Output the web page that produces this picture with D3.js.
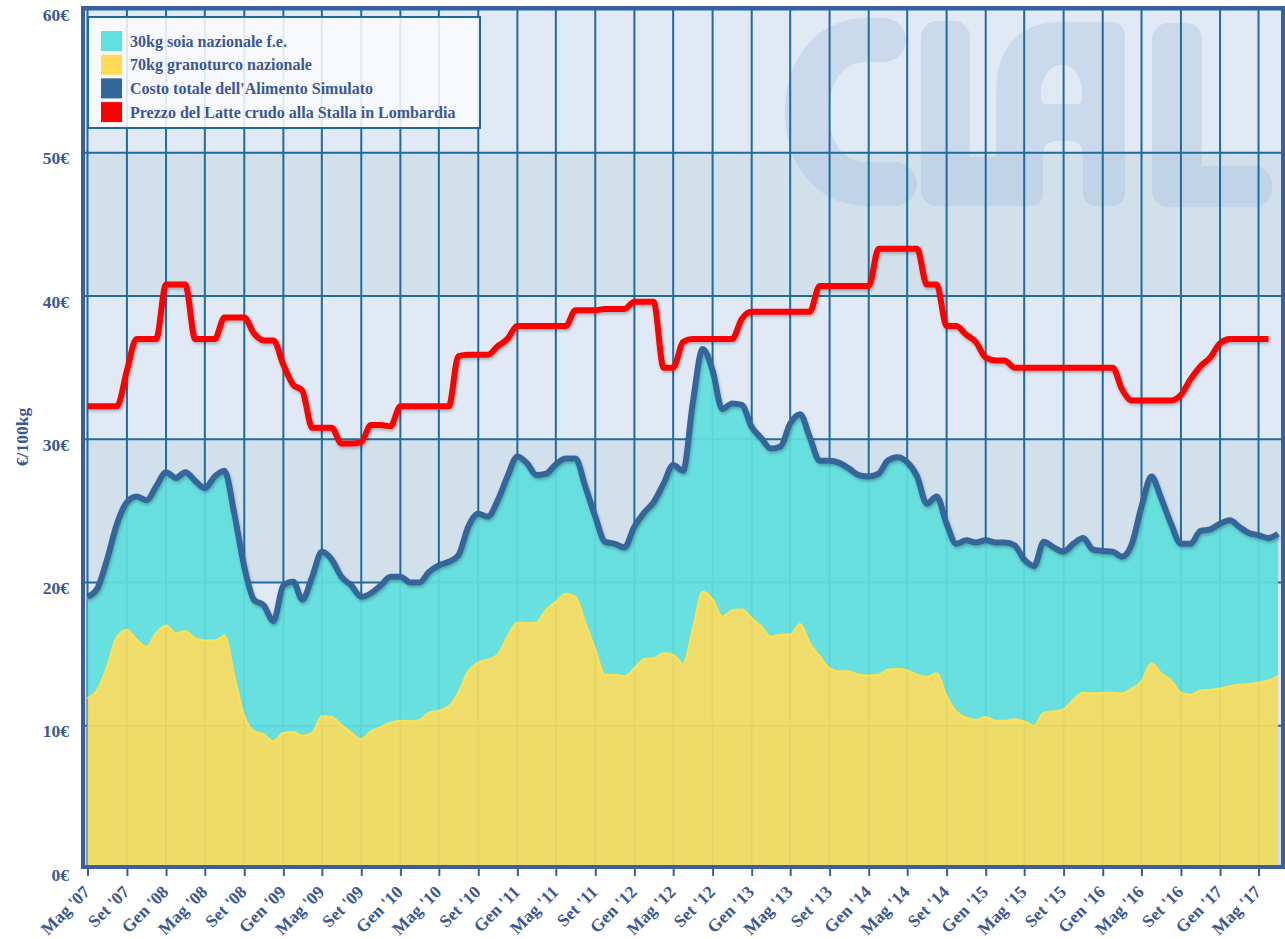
<!DOCTYPE html>
<html><head><meta charset="utf-8">
<script src="https://cdn.jsdelivr.net/npm/d3@7"></script>
<style>
body{margin:0;background:#fff}
svg{display:block}
text{font-family:"Liberation Serif","Times New Roman",serif;font-weight:bold;fill:#3a5894}
</style>
</head><body>
<svg id="c" width="1285" height="939"></svg>
<script>
// ---- DATA (monthly, starting May 2007) ----
const startDate = new Date(2007, 4, 1);
const granoturco = [
11.9,12.5,14.1,16.2,16.7,16.0,15.5,16.45,17.0,16.45,16.6,16.1,15.95,15.95,16.3,13.45,10.65,9.6,9.4,8.9,
9.5,9.55,9.3,9.5,10.65,10.6,10.05,9.5,9.05,9.6,9.9,10.2,10.35,10.3,10.4,10.9,11.05,11.35,12.3,13.8,
14.4,14.6,14.95,16.2,17.2,17.15,17.2,18.1,18.65,19.2,19.0,17.15,15.3,13.55,13.55,13.45,14.0,14.65,14.7,15.05,
14.95,14.3,16.7,19.35,18.8,17.6,18.05,18.1,17.5,16.9,16.2,16.35,16.35,17.1,15.75,14.85,14.0,13.8,13.8,13.55,
13.5,13.55,13.9,13.95,13.85,13.55,13.4,13.65,12.05,11.0,10.55,10.4,10.6,10.35,10.35,10.45,10.3,10.0,10.9,11.0,
11.15,11.8,12.3,12.25,12.3,12.3,12.25,12.6,13.1,14.35,13.65,13.15,12.3,12.15,12.45,12.5,12.6,12.75,12.85,12.9,
13.0,13.15,13.45];
const costoTotale = [
19.0,19.6,21.6,24.1,25.6,26.0,25.75,26.7,27.7,27.3,27.7,27.1,26.6,27.4,27.8,24.8,21.1,18.8,18.4,17.3,
19.8,20.05,18.8,20.4,22.15,21.6,20.4,19.8,19.0,19.25,19.8,20.4,20.4,20.0,20.0,20.75,21.2,21.45,21.9,23.9,
24.8,24.6,25.75,27.4,28.8,28.3,27.5,27.6,28.25,28.65,28.65,26.7,24.6,22.85,22.7,22.45,23.9,24.9,25.6,26.9,
28.2,27.8,32.5,36.3,34.8,32.1,32.5,32.4,30.85,30.05,29.35,29.5,31.1,31.75,30.15,28.5,28.5,28.35,27.95,27.5,
27.4,27.6,28.5,28.75,28.4,27.4,25.5,26.0,24.1,22.7,22.95,22.8,22.95,22.8,22.8,22.6,21.6,21.15,22.85,22.45,
22.15,22.7,23.1,22.3,22.2,22.15,21.8,22.7,25.3,27.4,25.9,24.1,22.7,22.7,23.6,23.7,24.1,24.35,23.9,23.45,
23.3,23.1,23.4];
const prezzoLatte = [
32.3,32.3,32.3,32.3,34.8,37.0,37.0,37.0,40.8,40.8,40.8,37.0,37.0,37.0,38.5,38.5,38.5,37.4,36.9,36.9,
35.2,33.8,33.4,30.8,30.8,30.8,29.7,29.7,29.8,31.0,31.0,30.9,32.3,32.3,32.3,32.3,32.3,32.3,35.8,35.9,
35.9,35.9,36.5,37.0,37.9,37.9,37.9,37.9,37.9,37.9,39.0,39.0,39.0,39.1,39.1,39.1,39.6,39.6,39.6,35.0,
35.0,36.8,37.0,37.0,37.0,37.0,37.0,38.4,38.9,38.9,38.9,38.9,38.9,38.9,38.9,40.7,40.7,40.7,40.7,40.7,
40.7,43.3,43.3,43.3,43.3,43.3,40.8,40.8,37.9,37.9,37.3,36.8,35.7,35.5,35.5,35.0,35.0,35.0,35.0,35.0,
35.0,35.0,35.0,35.0,35.0,35.0,33.5,32.7,32.7,32.7,32.7,32.7,33.1,34.2,35.1,35.7,36.7,37.0,37.0,37.0,
37.0,37.0];
const tickLabels = ["Mag '07","Set '07","Gen '08","Mag '08","Set '08","Gen '09","Mag '09","Set '09","Gen '10","Mag '10","Set '10",
"Gen '11","Mag '11","Set '11","Gen '12","Mag '12","Set '12","Gen '13","Mag '13","Set '13","Gen '14","Mag '14","Set '14",
"Gen '15","Mag '15","Set '15","Gen '16","Mag '16","Set '16","Gen '17","Mag '17"];
const yTicks = [0,10,20,30,40,50,60];
const legendLabels = ["30kg soia nazionale f.e.","70kg granoturco nazionale","Costo totale dell'Alimento Simulato","Prezzo del Latte crudo alla Stalla in Lombardia"];
const legendColors = ["#5fe0de","#ffdb55","#336699","#ff0000"];

// ---- SCALES ----
const svg = d3.select("#c");
const x = d3.scaleTime().domain([startDate, new Date(2017, 6, 7)]).range([87.5, 1280]);
const y = d3.scaleLinear().domain([0, 60]).range([869, 9.5]);
const L = 85, R = 1283, T = 9, B = 867;
const dateOf = i => d3.timeMonth.offset(startDate, i);

const defs = svg.append("defs");
const f = defs.append("filter").attr("id","sh").attr("x","-5%").attr("y","-5%").attr("width","110%").attr("height","120%");
f.append("feDropShadow").attr("dx",1).attr("dy",2).attr("stdDeviation",1.5).attr("flood-color","#000").attr("flood-opacity",0.25);
defs.append("clipPath").attr("id","clip").append("rect").attr("x",L).attr("y",T).attr("width",R-L).attr("height",B-T);

// bands
const bands = d3.range(6);
svg.append("g").selectAll("rect").data(bands).join("rect")
  .attr("x", L).attr("width", R - L)
  .attr("y", d => y(d*10+10)).attr("height", d => Math.min(y(d*10), B) - y(d*10+10))
  .attr("fill", d => d % 2 === 0 ? "#d2e0ec" : "#e1e9f4");

// watermark
const wm = svg.append("g").attr("opacity", 0.3).attr("fill", "#9ab6de");
wm.append("path").attr("d","M884,40 L868,40 C828,40 807,72 807,112 C807,152 828,184 868,184 L895,184")
  .attr("fill","none").attr("stroke","#9ab6de").attr("stroke-width",44).attr("stroke-linecap","round");
wm.append("rect").attr("x",921).attr("y",21).attr("width",49).attr("height",185).attr("rx",16);
wm.append("rect").attr("x",921).attr("y",157).attr("width",120).attr("height",49).attr("rx",16);
wm.append("path").attr("fill-rule","evenodd").attr("d",
  "M996,192 L996,95 Q996,22 1062,22 L1110,22 Q1125,22 1125,37 L1125,192 Q1125,206 1111,206 L1097,206 Q1083,206 1083,192 L1083,155 Q1083,141 1069,141 L1057,141 Q1043,141 1043,155 L1043,192 Q1043,206 1029,206 L1010,206 Q996,206 996,192 Z " +
  "M1041,98 L1041,88 Q1046,65 1062,65 Q1078,65 1082,88 L1082,98 Q1082,104 1076,104 L1047,104 Q1041,104 1041,98 Z");
wm.append("rect").attr("x",1152).attr("y",23).attr("width",50).attr("height",184).attr("rx",16);
wm.append("rect").attr("x",1152).attr("y",166).attr("width",120).attr("height",41).attr("rx",18);

// gridlines
const tickDates = d3.timeMonth.every(4).range(startDate, new Date(2017, 5, 1));
const grid = svg.append("g").attr("stroke", "#1f6ca0").attr("stroke-width", 2);
grid.selectAll("line.h").data(yTicks.filter(d => d > 0)).join("line").attr("class","h")
  .attr("x1", L).attr("x2", R).attr("y1", d => y(d)).attr("y2", d => y(d));
grid.selectAll("line.v").data(tickDates).join("line").attr("class","v")
  .attr("x1", d => x(d)).attr("x2", d => x(d)).attr("y1", T).attr("y2", B);

// areas
const plot = svg.append("g").attr("clip-path","url(#clip)");
const px = (d,i) => x(dateOf(i));
const soiaBand = d3.area().x(px).y0((d,i) => y(granoturco[i])).y1(d => y(d)).curve(d3.curveMonotoneX);
plot.append("path").datum(costoTotale).attr("d", soiaBand).attr("fill", "#5fdfde").attr("fill-opacity", 0.93);
const areaCorn = d3.area().x(px).y0(B+2).y1(d => y(d)).curve(d3.curveMonotoneX);
plot.append("path").datum(granoturco).attr("d", areaCorn).attr("fill", "#efdb62").attr("fill-opacity", 0.95);
const line = d3.line().x(px).y(d => y(d)).curve(d3.curveMonotoneX);
plot.append("path").datum(granoturco).attr("d", line).attr("fill","none").attr("stroke","#ffe052").attr("stroke-width",2.2);

// lines
plot.append("path").datum(costoTotale).attr("d", line).attr("fill","none")
  .attr("stroke","#35669a").attr("stroke-width",6).attr("stroke-linejoin","round").attr("filter","url(#sh)");
plot.append("path").datum(prezzoLatte).attr("d", line).attr("fill","none")
  .attr("stroke","#ff0000").attr("stroke-width",6).attr("stroke-linejoin","round").attr("filter","url(#sh)");

// frame
svg.append("rect").attr("x", L-2).attr("y", T-1).attr("width", R-L+2).attr("height", B-T+1)
  .attr("fill","none").attr("stroke","#3b5e9c").attr("stroke-width",4);

// x axis
const xAxis = svg.append("g").attr("transform", `translate(0,${B+2})`)
  .call(d3.axisBottom(x).tickValues(tickDates).tickFormat((d,i) => tickLabels[i]).tickSize(7).tickPadding(4));
xAxis.select(".domain").remove();
xAxis.selectAll(".tick line").attr("stroke","#3b5e9c").attr("stroke-width",2);
xAxis.selectAll(".tick text").attr("font-size",17.5).attr("fill","#3a5894")
  .attr("text-anchor","end").attr("dy",null).attr("y",null)
  .attr("transform","translate(3,24) rotate(-45)");

// y axis
const yAxis = svg.append("g").attr("transform","translate(72,5.5)")
  .call(d3.axisLeft(y).tickValues(yTicks).tickFormat(d => d + "€").tickSize(0).tickPadding(3));
yAxis.select(".domain").remove();
yAxis.selectAll(".tick text").attr("font-size",17.5).attr("fill","#3a5894");

svg.append("text").attr("transform","translate(28,437) rotate(-90)").attr("text-anchor","middle")
  .attr("font-size",17.5).text("€/100kg");

// legend
const lg = svg.append("g");
lg.append("rect").attr("x",88).attr("y",17).attr("width",392).attr("height",111)
  .attr("fill","#fafbfd").attr("fill-opacity",0.88).attr("stroke","#1f6a9c").attr("stroke-width",2);
const items = lg.selectAll("g.it").data(legendLabels).join("g").attr("class","it")
  .attr("transform",(d,i) => `translate(101,${31 + i*23.7})`);
items.append("rect").attr("width",21).attr("height",20).attr("fill",(d,i) => legendColors[i]);
items.append("text").attr("x",29).attr("y",15.5).attr("font-size",16).text(d => d);
</script>
</body></html>
